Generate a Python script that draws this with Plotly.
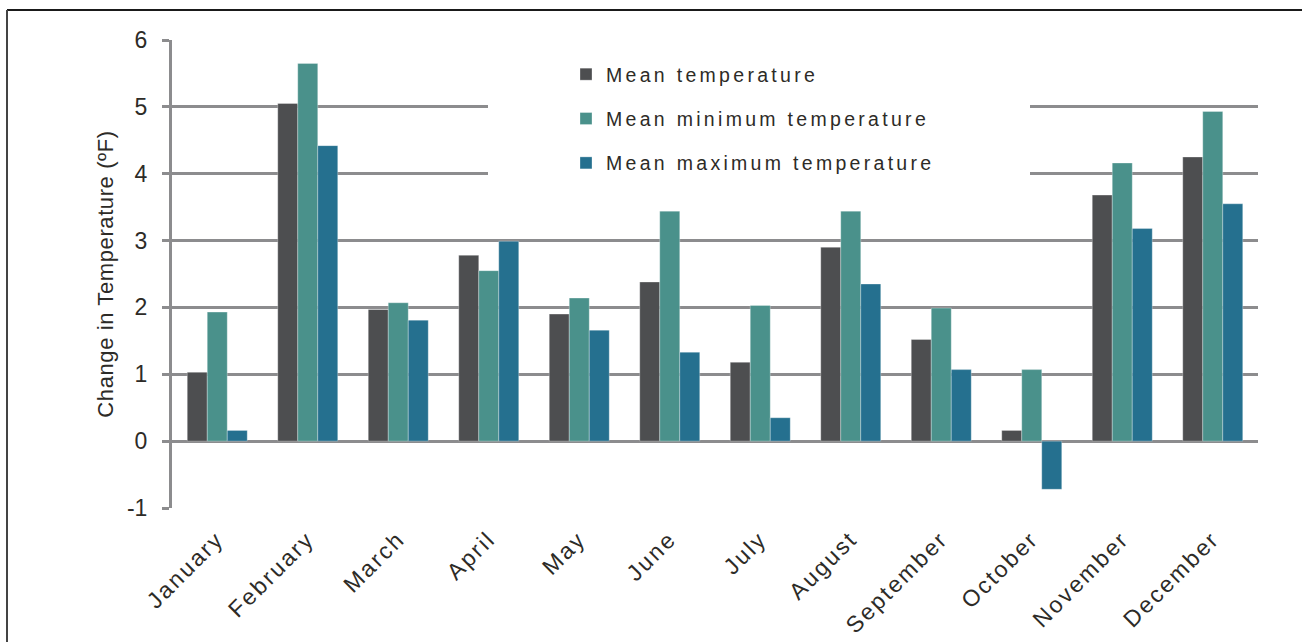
import plotly.graph_objects as go

months = ["January", "February", "March", "April", "May", "June", "July",
          "August", "September", "October", "November", "December"]
mean_temp = [1.03, 5.05, 1.97, 2.78, 1.90, 2.38, 1.18, 2.90, 1.52, 0.16, 3.68, 4.25]
mean_min = [1.93, 5.65, 2.07, 2.55, 2.14, 3.44, 2.03, 3.44, 1.99, 1.07, 4.16, 4.93]
mean_max = [0.16, 4.42, 1.81, 2.99, 1.66, 1.33, 0.35, 2.35, 1.07, -0.72, 3.18, 3.55]
series_names = ["Mean temperature", "Mean minimum temperature", "Mean maximum temperature"]
y_ticks = [-1, 0, 1, 2, 3, 4, 5, 6]
y_tick_labels = ["-1", "0", "1", "2", "3", "4", "5", "6"]
y_title = "Change in Temperature (ºF)"
colors = ["#4d4e50", "#4a918b", "#25708f"]

W, H = 1302, 642
L, T = 172, 40
R = W - 1258
B = H - 508
PW, PH = W - L - R, H - T - B
GRID = "#8c8c8e"
TXT = "#2d2b27"
FONT = "Arial, Liberation Sans, sans-serif"


def px_x(px):
    return (px - L) / PW


def px_y(py):
    return (H - B - py) / PH


def spaced(s, sp):
    return f'<span style="letter-spacing:{sp}px">{s}</span>'


fig = go.Figure()
for i, (name, vals, col) in enumerate(zip(series_names, [mean_temp, mean_min, mean_max], colors)):
    fig.add_trace(go.Bar(
        x=months, y=vals, name=spaced(name, 3.3), legendgroup=f"g{i}",
        marker=dict(color=col, line=dict(color="rgba(255,255,255,0.5)", width=0.6)),
        hoverinfo="x+y",
    ))

fig.update_layout(
    width=W, height=H,
    margin=dict(l=L, r=R, t=T, b=B, autoexpand=False),
    paper_bgcolor="white", plot_bgcolor="white",
    barmode="group", bargap=0.337, bargroupgap=0,
    font=dict(family=FONT, color=TXT),
    showlegend=True,
    legend=dict(
        x=px_x(566), y=px_y(55), xanchor="left", yanchor="top",
        bgcolor="rgba(0,0,0,0)", font=dict(size=19.5, color=TXT, family=FONT),
        traceorder="grouped", tracegroupgap=16, itemclick=False,
    ),
    xaxis=dict(
        type="category", categoryorder="array", categoryarray=months,
        tickvals=months, ticktext=[spaced(m, 2.3) for m in months],
        tickangle=-45, tickfont=dict(size=23, color=TXT, family=FONT),
        showline=False, showgrid=False, zeroline=False, ticks="",
        ticklabelstandoff=12, range=[-0.5, 11.5], automargin=False,
    ),
    xaxis2=dict(
        overlaying="x", anchor="free", position=1 / 7, side="bottom",
        range=[-0.5, 11.5], tickvals=[k - 0.5 for k in range(len(months) + 1)],
        ticks="outside", ticklen=8, tickwidth=3, tickcolor=GRID,
        showline=True, linewidth=3, linecolor=GRID, automargin=False,
        showticklabels=False, showgrid=False, zeroline=False, fixedrange=True,
    ),
    yaxis=dict(
        range=[-1, 6], tickvals=y_ticks, ticktext=y_tick_labels,
        showgrid=True, gridcolor=GRID, gridwidth=3, automargin=False,
        zeroline=False, showline=True, linewidth=3, linecolor=GRID,
        ticks="outside", ticklen=7, tickwidth=3, tickcolor=GRID,
        tickfont=dict(size=23, color=TXT, family=FONT), ticklabelstandoff=10,
        title=dict(text=spaced(y_title, 0.6) + "\u00a0" * 4,
                   font=dict(size=22, color=TXT, family=FONT), standoff=8),
    ),
    shapes=[
        dict(type="rect", xref="paper", yref="paper", layer="above",
             x0=px_x(488), x1=px_x(1030), y0=px_y(198), y1=px_y(50),
             fillcolor="white", line=dict(width=0)),
        dict(type="rect", xref="paper", yref="paper", layer="above",
             x0=px_x(1286), x1=px_x(W), y0=px_y(H), y1=px_y(12),
             fillcolor="white", line=dict(width=0)),
        dict(type="line", xref="paper", yref="paper",
             x0=px_x(7), x1=px_x(W), y0=px_y(10), y1=px_y(10),
             line=dict(color="#1a1a1a", width=2)),
        dict(type="line", xref="paper", yref="paper",
             x0=px_x(7), x1=px_x(7), y0=px_y(10), y1=px_y(H),
             line=dict(color="#444444", width=2)),
    ],
)

fig.write_html(
    "out.html",
    config={"displayModeBar": False},
    post_script="document.body.style.margin='0';document.body.style.overflow='hidden';"
                "document.documentElement.style.overflow='hidden';",
)
